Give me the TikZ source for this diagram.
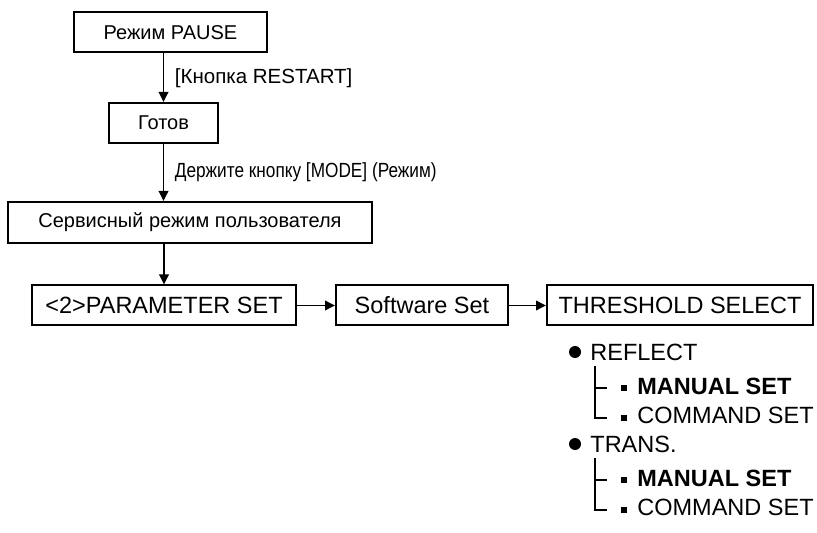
\documentclass[tikz,border=0pt]{standalone}
\usepackage{fontspec}
\setmainfont{Liberation Sans}
\newfontfamily\estrecha[FakeStretch=0.84]{Liberation Sans}
\usetikzlibrary{arrows.meta}
\tikzset{
  caja/.style={draw,line width=1pt,inner sep=0pt,minimum height=20pt},
  flecha/.style={-{Triangle[length=5pt,width=4.8pt]},line width=0.75pt},
  rama/.style={line width=0.7pt},
  chico/.style={font=\fontsize{10}{12}\selectfont},
  grande/.style={font=\fontsize{11.75}{14}\selectfont},
}
\newcommand{\GrupoUmbral}[2]{%
  \node[circle,fill,inner sep=0pt,minimum size=6pt] (p#1) at (575,352) {};
  \node[grande,anchor=west,inner sep=0pt] (t#1) at (590,352) {#2};
  \node[fill,inner sep=0pt,minimum size=3pt] (cm#1) at (624,388) {};
  \node[fill,inner sep=0pt,minimum size=3pt] (cc#1) at (624,418) {};
  \node[grande,anchor=west,inner sep=0pt] (tm#1) at (637,386) {\bfseries MANUAL SET};
  \node[grande,anchor=west,inner sep=0pt] (tc#1) at (637,415) {COMMAND SET};
  \coordinate (v#1) at (595,366);
  \draw[rama] (v#1) |- ([xshift=-7pt]cc#1.west);
  \draw[rama] (v#1 |- cm#1) -- ([xshift=-7pt]cm#1.west);
}

\begin{document}
\begin{tikzpicture}[x=0.5pt,y=-0.5pt]
  \useasboundingbox (0,0) rectangle (817,533);

  % cadena de modos
  \node[caja,chico,minimum width=96.5pt] (pausa) at (170.5,32.5) {Режим PAUSE};
  \node[caja,chico,minimum width=54.5pt] (listo) at (163.5,123) {Готов};
  \node[caja,chico,minimum width=182pt,minimum height=20.5pt] (servicio) at (190,222.5) {Сервисный режим пользователя};
  \node[caja,grande,minimum width=132pt] (param) at (164,305.5) {<2>PARAMETER SET};
  \node[caja,grande,minimum width=86pt] (soft) at (422,305.5) {Software Set};
  \node[caja,grande,minimum width=133pt] (umbral) at (680,305.5) {THRESHOLD SELECT};

  \draw[flecha] (listo.north |- pausa.south) -- (listo.north)
    node[midway,anchor=west,xshift=2pt,font=\fontsize{10.25}{12}\selectfont] (reinicio) {[Кнопка RESTART]};
  \draw[flecha] (listo.south) -- (listo.south |- servicio.north)
    node[midway,anchor=west,xshift=2pt,font=\estrecha\fontsize{10.25}{12}\selectfont] (modo) {Держите кнопку [MODE] (Режим)};
  \draw[flecha] (param.north |- servicio.south) -- (param.north);
  \draw[flecha] (param.east) -- (soft.west);
  \draw[flecha] (soft.east) -- (umbral.west);

  % opciones
  \begin{scope}
    \GrupoUmbral{a}{REFLECT}
  \end{scope}
  \begin{scope}[yshift=-46pt]
    \GrupoUmbral{b}{TRANS.}
  \end{scope}
\end{tikzpicture}
\end{document}
